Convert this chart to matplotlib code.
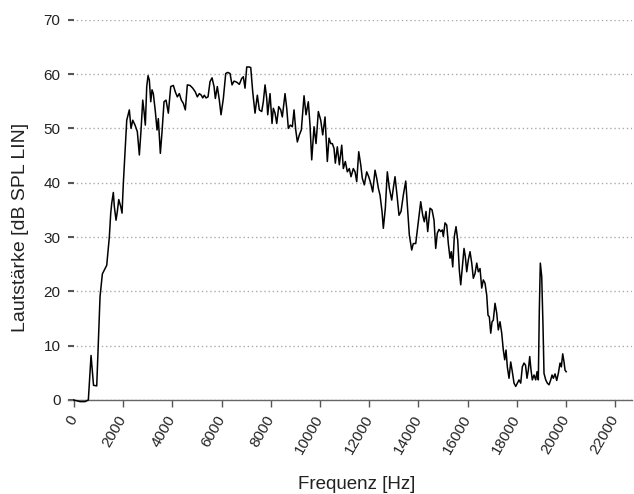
import matplotlib
matplotlib.use("Agg")
import matplotlib.pyplot as plt

plt.rcParams["font.family"] = ["Liberation Sans", "DejaVu Sans"]

# spectrum (Hz, dB SPL)
freq = [0, 252, 455, 589, 699, 800, 930, 1064, 1158, 1336, 1442, 1499, 1539, 1604,
        1645, 1714, 1767, 1824, 1905, 1958, 2011, 2149, 2254, 2323, 2393, 2486, 2579,
        2661, 2730, 2799, 2852, 2904, 2961, 3014, 3067, 3124, 3176, 3229, 3311, 3380,
        3432, 3514, 3583, 3664, 3745, 3839, 3936, 4042, 4123, 4204, 4285, 4367, 4448,
        4529, 4610, 4720, 4830, 4935, 5016, 5098, 5179, 5236, 5301, 5370, 5451, 5532,
        5614, 5695, 5748, 5829, 5910, 5979, 6073, 6170, 6251, 6345, 6426, 6507, 6617,
        6723, 6820, 6885, 6954, 7023, 7117, 7186, 7267, 7360, 7454, 7535, 7632, 7697,
        7767, 7836, 7876, 7970, 8051, 8104, 8173, 8242, 8323, 8404, 8469, 8579, 8648,
        8713, 8794, 8876, 8945, 9014, 9079, 9160, 9241, 9351, 9432, 9525, 9594, 9663,
        9757, 9838, 9932, 10029, 10110, 10204, 10297, 10366, 10435, 10500, 10569, 10622,
        10703, 10785, 10882, 10947, 11028, 11110, 11191, 11260, 11353, 11422, 11491,
        11573, 11654, 11719, 11800, 11897, 11979, 12060, 12141, 12235, 12304, 12369,
        12438, 12519, 12572, 12653, 12734, 12816, 12913, 12978, 13047, 13128, 13209,
        13291, 13384, 13482, 13547, 13628, 13725, 13790, 13888, 13993, 14091, 14172,
        14237, 14306, 14375, 14469, 14550, 14631, 14700, 14765, 14834, 14903, 14968,
        15009, 15078, 15147, 15212, 15281, 15334, 15391, 15456, 15525, 15594, 15659,
        15716, 15781, 15850, 15903, 15960, 16025, 16094, 16163, 16228, 16297, 16366,
        16431, 16500, 16569, 16634, 16703, 16772, 16825, 16878, 16935, 16988, 17040,
        17109, 17178, 17243, 17312, 17381, 17446, 17503, 17556, 17609, 17678, 17747,
        17812, 17881, 17950, 18015, 18084, 18153, 18218, 18287, 18348, 18409, 18462,
        18519, 18572, 18624, 18693, 18762, 18815, 18868, 18909, 18949, 19006, 19059,
        19099, 19169, 19234, 19303, 19372, 19425, 19478, 19547, 19616, 19681, 19750,
        19803, 19859, 19912, 19953, 20000]
level = [0, -0.3, -0.3, 0, 8.2, 2.7, 2.6, 19, 23.2, 24.8, 30, 34.4, 36.2, 38.2,
         35.6, 33.1, 34.7, 36.9, 35.6, 34.4, 39.9, 51.5, 53.4, 50, 51.5, 50.6, 49.4,
         45.1, 49.7, 55.2, 53.1, 50.6, 57.7, 59.7, 58.9, 54.9, 57.1, 56.4, 53.1, 49.7,
         51.8, 45.4, 49.4, 54.9, 55.2, 52.8, 57.7, 57.9, 56.7, 55.8, 56.4, 55.2, 54.6,
         53.4, 58, 57.9, 57.4, 56.7, 55.8, 56.4, 56.1, 55.6, 56.1, 55.6, 55.8, 58.6,
         59.3, 57.7, 55.5, 57.7, 55.2, 52.5, 55.5, 60.1, 60.3, 60.1, 58, 58.7, 58.5,
         58.1, 59.2, 59.5, 57.4, 61.3, 61.3, 61.2, 56.7, 52.8, 56.1, 53.4, 53.1, 54.9,
         58, 55.5, 52.5, 56.4, 50.9, 53.7, 52.8, 50.9, 54, 53.4, 52.1, 56.4, 53.7,
         50, 50.6, 50.3, 53.4, 49.7, 47.5, 48.8, 49.7, 56, 52.5, 54.9, 50.6, 44.2,
         50.3, 47.2, 53.1, 51.5, 48.8, 52.1, 43.9, 48.2, 47.2, 47.2, 46.3, 43.6,
         46.6, 43.3, 46.9, 42.6, 43.9, 42, 42.6, 41.1, 42.6, 42, 40.2,
         45.7, 43.3, 40.8, 39.6, 42, 41.1, 39.9, 38.3, 42.3, 40.8, 39,
         37.7, 34.7, 31.6, 35.3, 42, 39, 36.8, 39, 41.1, 37.7, 34,
         34.7, 37.7, 40.3, 35.9, 30.4, 27.6, 28.8, 28.8, 32.8, 36.5, 34,
         32.8, 34.7, 31, 35.3, 35, 33.1, 27.9, 30.7, 31.4, 31, 31.3,
         30.1, 32.6, 32.2, 28.8, 26.1, 27.3, 24.5, 30.1, 31.9, 29.4, 23.9,
         21.2, 24.5, 27.9, 26.4, 23.6, 25.8, 27.3, 25.2, 22.4, 23.3, 25.2,
         23.6, 24.2, 20.6, 22.1, 21.5, 19.3, 15.6, 15.3, 12.3, 14.4, 14.7,
         17.8, 16, 12.9, 14.4, 12.3, 9.2, 7.4, 9.2, 6.1, 4, 7,
         5.2, 3.1, 2.5, 3.1, 3.7, 3.1, 6.1, 6.8, 6.4, 4, 5.5,
         8, 5.5, 3.7, 4.6, 3.7, 5.2, 3.7, 16.6, 25.2, 22.7, 13.5,
         4.9, 3.7, 3.1, 2.8, 3.7, 4.6, 4, 4.8, 3.6, 4.9, 6.8,
         6.1, 8.5, 7, 5.5, 5.2]

x_ticks = list(range(0, 22001, 2000))
y_ticks = list(range(0, 71, 10))

fig = plt.figure(figsize=(6.34, 4.94), dpi=100)
ax = fig.add_axes([0.1073, 0.1903, 0.8891, 0.7698])

ax.plot(freq, level, color="black", linewidth=1.1, clip_on=False, zorder=3)

ax.set_xlim(-236, 22662)
ax.set_ylim(0, 70)

ax.set_xticks(x_ticks)
ax.set_xticklabels([str(t) for t in x_ticks], rotation=60, ha="right",
                   va="center", rotation_mode="anchor")
ax.set_yticks(y_ticks)

for s in ["top", "right", "left"]:
    ax.spines[s].set_visible(False)
ax.spines["bottom"].set_color("#666666")
ax.spines["bottom"].set_linewidth(1.0)

ax.tick_params(axis="x", direction="out", length=5, width=1, color="#555555",
               labelsize=11, labelcolor="#222222", pad=7)
ax.tick_params(axis="y", direction="in", length=4.5, width=1.5, color="#555555",
               labelsize=11, labelcolor="#222222", pad=5.5)

ax.grid(axis="y", color="#aaaaaa", linestyle=(0, (1, 2)), linewidth=1.0)
ax.set_axisbelow(True)
for t in ax.yaxis.get_major_ticks():
    t.tick1line.set_zorder(2)

fig.text(21 / 634, (494 - 227.5) / 494, "Lautstärke [dB SPL LIN]", rotation=90,
         ha="center", va="center", fontsize=14, color="#222222")
fig.text(357 / 634, 5 / 494, "Frequenz [Hz]", ha="center", va="baseline",
         fontsize=13.5, color="#222222")

fig.savefig("out.png", dpi=100)
